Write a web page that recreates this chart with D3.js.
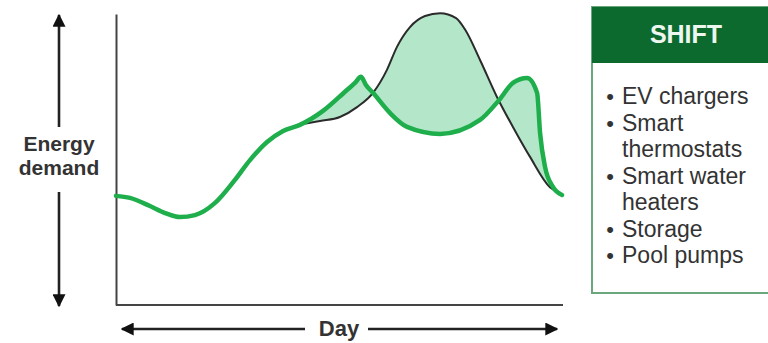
<!DOCTYPE html>
<html>
<head>
<meta charset="utf-8">
<script src="https://cdn.jsdelivr.net/npm/d3@7"></script>
<style>
  html, body { margin: 0; padding: 0; background: #fff; }
  svg { display: block; font-family: "Liberation Sans", Arial, sans-serif; }
</style>
</head>
<body>
<svg id="chart" width="768" height="343"></svg>
<script>
// Hour of day and relative demand (0–100) for the load curves.
// Both curves share the morning portion of the day.
const sharedHours  = [0, 0.75, 1.83, 2.64, 3.44, 4.25, 5.33, 6.40, 7.21, 8.13, 8.99, 9.90];
const sharedDemand = [37.5, 36.8, 34.0, 31.6, 30.2, 30.9, 35.1, 43.0, 49.8, 56.0, 59.8, 61.9];

// Original demand (black): single large evening peak.
const originalHours  = [10.98, 12.05, 12.97, 13.83, 14.58, 15.12, 15.82, 16.63, 17.44, 18.30, 18.80, 19.59, 20.50, 21.36, 22.28, 23.35, 23.89];
const originalDemand = [63.2, 64.6, 68.0, 72.9, 80.8, 88.7, 95.5, 99.3, 100.3, 98.6, 94.5, 84.2, 71.5, 61.2, 50.9, 40.5, 38.5];

// Shifted demand (green): load moved away from the peak.
const shiftedHours  = [11.14, 12.43, 12.86, 13.18, 13.45, 13.83, 14.74, 15.66, 17.44, 19.59, 20.61, 21.36, 22.12, 22.66, 22.82, 23.09, 23.52, 24];
const shiftedDemand = [66.7, 73.9, 76.3, 78.4, 75.6, 72.9, 66.0, 61.2, 58.8, 63.6, 70.4, 76.3, 78.0, 72.9, 59.1, 47.4, 40.5, 37.8];

const panelTitle = "SHIFT";
const panelItems = [
  ["EV chargers"],
  ["Smart", "thermostats"],
  ["Smart water", "heaters"],
  ["Storage"],
  ["Pool pumps"]
];

const svg = d3.select("#chart");

const x = d3.scaleLinear().domain([0, 24]).range([116, 562]);
const y = d3.scaleLinear().domain([0, 100]).range([305, 14]);

const toPoints = (hs, vs) => hs.map((h, i) => ({ h, v: vs[i] }));
const original = toPoints(sharedHours.concat(originalHours), sharedDemand.concat(originalDemand));
const shifted  = toPoints(sharedHours.concat(shiftedHours), sharedDemand.concat(shiftedDemand));

const line = d3.line()
  .x(d => x(d.h))
  .y(d => y(d.v))
  .curve(d3.curveMonotoneX);

// Trace a rendered curve from its end back to its start
function reversedTrace(points) {
  const tmp = svg.append("path").attr("d", line(points)).attr("visibility", "hidden");
  const node = tmp.node();
  const len = node.getTotalLength();
  const parts = [];
  for (let s = len; s > 0; s -= 1) {
    const p = node.getPointAtLength(s);
    parts.push(p.x.toFixed(2) + "," + p.y.toFixed(2));
  }
  const p0 = node.getPointAtLength(0);
  parts.push(p0.x.toFixed(2) + "," + p0.y.toFixed(2));
  tmp.remove();
  return parts.join("L");
}

// Shaded region between the shifted and original curves
svg.append("path")
  .attr("d", line(shifted) + "L" + reversedTrace(original) + "Z")
  .attr("fill", "#b4e7c9")
  .attr("stroke", "none");

// Axes without ticks
svg.append("g")
  .attr("transform", `translate(${x(0)},0)`)
  .call(d3.axisLeft(y).tickValues([]).tickSizeOuter(0))
  .select(".domain").attr("stroke", "#444").attr("stroke-width", 2);
svg.append("g")
  .attr("transform", `translate(0,${y(0)})`)
  .call(d3.axisBottom(x).tickValues([]).tickSizeOuter(0))
  .select(".domain").attr("stroke", "#444").attr("stroke-width", 2)
  .attr("d", `M${x(0)},0H${x(24) + 1}`);

svg.append("path")
  .attr("d", line(original))
  .attr("fill", "none")
  .attr("stroke", "#2b2b2b")
  .attr("stroke-width", 2);

svg.append("path")
  .attr("d", line(shifted))
  .attr("fill", "none")
  .attr("stroke", "#1eae4b")
  .attr("stroke-width", 4.5)
  .attr("stroke-linejoin", "round")
  .attr("stroke-linecap", "round");

// Direction arrows with labels
const defs = svg.append("defs");
defs.append("marker")
  .attr("id", "head")
  .attr("viewBox", "0 0 10 10")
  .attr("refX", 9).attr("refY", 5)
  .attr("markerWidth", 5).attr("markerHeight", 5)
  .attr("markerUnits", "strokeWidth")
  .attr("orient", "auto")
  .append("path").attr("d", "M0,0L10,5L0,10Z").attr("fill", "#111");

const arrow = (x1, y1, x2, y2) => svg.append("line")
  .attr("x1", x1).attr("y1", y1).attr("x2", x2).attr("y2", y2)
  .attr("stroke", "#222").attr("stroke-width", 2.6)
  .attr("marker-end", "url(#head)");

arrow(59, 127, 59, 15);
arrow(59, 192, 59, 306);
arrow(305, 329, 122, 329);
arrow(368, 329, 557, 329);

const labelColor = "#333";
svg.append("text")
  .attr("x", 59).attr("y", 151)
  .attr("text-anchor", "middle")
  .attr("font-size", 21).attr("font-weight", "bold").attr("fill", labelColor)
  .text("Energy");
svg.append("text")
  .attr("x", 59).attr("y", 175)
  .attr("text-anchor", "middle")
  .attr("font-size", 21).attr("font-weight", "bold").attr("fill", labelColor)
  .text("demand");
svg.append("text")
  .attr("x", 339).attr("y", 336)
  .attr("text-anchor", "middle")
  .attr("font-size", 22).attr("font-weight", "bold").attr("fill", labelColor)
  .text("Day");

// Side panel listing shiftable loads
const panel = svg.append("g");
panel.append("rect")
  .attr("x", 592).attr("y", 7).attr("width", 200).attr("height", 286)
  .attr("fill", "#fff").attr("stroke", "#6aa77d").attr("stroke-width", 2);
panel.append("rect")
  .attr("x", 592).attr("y", 7).attr("width", 200).attr("height", 56)
  .attr("fill", "#0d6a2f");
panel.append("text")
  .attr("x", 686).attr("y", 43)
  .attr("text-anchor", "middle")
  .attr("font-size", 25).attr("font-weight", "bold").attr("fill", "#eef7ef")
  .text(panelTitle);

let row = 0;
panelItems.forEach(item => {
  item.forEach((ln, j) => {
    const yy = 104 + row * 26.5;
    if (j === 0) {
      panel.append("text")
        .attr("x", 610).attr("y", yy)
        .attr("text-anchor", "middle")
        .attr("font-size", 22).attr("fill", "#333")
        .text("•");
    }
    panel.append("text")
      .attr("x", 622).attr("y", yy)
      .attr("font-size", 23).attr("fill", "#333")
      .text(ln);
    row++;
  });
});
</script>
</body>
</html>
